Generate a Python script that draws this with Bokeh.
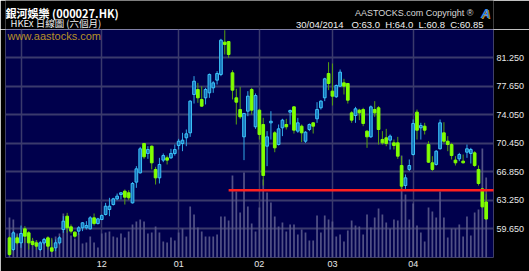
import pandas as pd
from bokeh.plotting import figure
from bokeh.layouts import column
from bokeh.models import Range1d, FixedTicker, Label, ColumnDataSource
from bokeh.core.properties import value
from bokeh.embed import file_html
from bokeh.resources import INLINE

# ---------------- data ----------------
start_date, end_date = "2013-10-29", "2014-04-30"
holidays = ["2013-12-25", "2013-12-26", "2014-01-01", "2014-01-31",
            "2014-02-03", "2014-04-18", "2014-04-21"]

opens = [
    58.47, 57.00, 58.47, 57.84, 59.61, 59.11, 58.01, 57.84, 57.00, 57.84,
    58.47, 57.21, 57.21, 57.84, 59.53, 61.21, 59.86, 59.19, 59.32, 59.74,
    59.74, 59.61, 61.00, 60.28, 60.79, 61.42, 62.05, 62.68, 63.40, 63.95,
    64.37, 64.16, 62.89, 65.51, 66.68, 70.39, 69.13, 70.05, 67.11, 66.05,
    68.29, 68.58, 68.58, 69.13, 70.14, 70.39, 71.11, 71.74, 76.58, 77.21,
    75.95, 76.16, 76.79, 77.42, 78.39, 79.11, 83.19, 83.27, 79.32, 76.16,
    74.68, 71.23, 74.47, 77.21, 72.50, 74.60, 72.79, 70.05, 73.00, 71.74,
    70.26, 72.37, 72.79, 74.35, 75.02, 71.95, 72.58, 70.68, 72.16, 73.00,
    73.51, 74.90, 76.16, 79.23, 77.00, 76.29, 77.63, 78.05, 77.97, 74.26,
    73.93, 74.60, 74.68, 71.95, 71.23, 74.68, 74.90, 70.90, 71.11, 70.81,
    70.47, 70.47, 67.61, 65.08, 67.11, 69.00, 74.35, 72.37, 72.58, 70.26,
    67.95, 67.74, 69.72, 71.74, 70.68, 70.26, 68.29, 68.45, 68.16, 69.29,
    69.13, 69.21, 67.11, 64.66, 63.00]
highs = [
    58.68, 59.32, 58.77, 60.03, 59.95, 59.32, 58.47, 58.18, 58.05, 58.47,
    58.68, 58.47, 58.26, 58.68, 61.21, 61.63, 60.16, 59.32, 59.95, 60.45,
    60.58, 61.21, 61.55, 61.00, 61.42, 62.89, 63.53, 63.53, 64.07, 64.24,
    64.58, 64.49, 65.51, 67.53, 69.97, 70.47, 70.05, 70.14, 67.44, 68.58,
    69.13, 68.87, 69.72, 70.26, 70.98, 71.74, 72.16, 75.86, 78.90, 78.05,
    77.63, 77.42, 79.23, 78.26, 79.53, 83.61, 84.70, 83.32, 79.65, 77.30,
    77.55, 74.26, 77.00, 77.42, 76.71, 74.77, 73.63, 71.95, 74.47, 71.95,
    72.79, 73.51, 73.51, 74.68, 75.11, 73.63, 72.79, 71.95, 72.92, 73.08,
    75.61, 75.86, 78.69, 80.66, 80.49, 77.84, 79.74, 78.56, 78.00, 74.47,
    75.02, 74.77, 74.90, 72.07, 75.19, 75.74, 75.11, 71.95, 72.24, 71.53,
    70.89, 71.23, 68.79, 66.48, 68.37, 73.42, 74.68, 73.00, 73.00, 70.68,
    68.79, 69.55, 73.42, 73.08, 71.32, 70.47, 68.79, 69.21, 69.00, 70.26,
    69.84, 69.42, 67.61, 64.79, 64.00]
lows = [
    56.16, 56.79, 57.63, 57.21, 57.84, 57.00, 57.42, 57.00, 56.79, 57.63,
    57.00, 56.66, 56.79, 57.63, 59.11, 59.11, 59.02, 58.47, 58.89, 59.32,
    59.53, 59.53, 60.03, 60.16, 60.70, 61.30, 61.21, 62.56, 63.23, 63.32,
    62.68, 63.23, 62.81, 64.79, 66.60, 68.45, 68.45, 67.11, 65.21, 65.34,
    68.03, 67.74, 68.45, 68.87, 69.63, 69.42, 70.05, 71.23, 75.44, 75.53,
    75.02, 75.32, 76.16, 76.79, 77.84, 78.90, 81.63, 81.21, 75.95, 72.79,
    73.51, 68.29, 73.84, 74.05, 72.24, 70.89, 65.08, 67.53, 70.89, 69.29,
    70.14, 71.32, 72.16, 72.79, 71.65, 71.74, 70.56, 70.47, 71.95, 71.65,
    73.00, 74.68, 75.74, 77.13, 75.19, 76.16, 77.55, 76.58, 75.44, 73.00,
    73.00, 73.34, 72.58, 69.84, 71.11, 73.76, 70.26, 70.26, 70.05, 69.63,
    69.63, 68.45, 64.58, 64.66, 66.90, 68.87, 70.89, 70.89, 71.53, 67.95,
    66.90, 67.61, 69.63, 70.47, 69.42, 68.37, 67.61, 68.16, 67.86, 68.58,
    67.86, 67.44, 65.08, 62.26, 60.80]
closes = [
    56.37, 59.11, 57.84, 59.02, 58.68, 57.84, 57.63, 57.42, 57.84, 58.26,
    57.42, 56.79, 57.84, 58.47, 60.58, 59.74, 59.32, 58.68, 59.74, 60.37,
    60.03, 61.00, 60.28, 60.87, 61.30, 62.47, 62.47, 63.40, 63.74, 64.16,
    63.61, 63.53, 65.34, 67.19, 69.72, 68.71, 69.63, 67.95, 66.05, 67.74,
    68.87, 68.29, 69.13, 69.63, 70.68, 70.81, 71.61, 75.74, 78.26, 76.16,
    75.11, 77.21, 79.11, 78.05, 79.23, 83.44, 82.90, 81.63, 77.13, 75.61,
    73.76, 74.18, 76.37, 74.60, 76.45, 71.53, 66.35, 71.23, 73.20, 69.84,
    72.24, 73.34, 72.50, 74.56, 72.07, 73.00, 71.74, 71.82, 72.79, 72.58,
    74.68, 75.74, 78.56, 77.97, 76.37, 77.72, 79.40, 77.63, 75.86, 73.34,
    74.77, 74.26, 72.92, 71.23, 75.02, 74.26, 72.16, 70.47, 70.39, 71.32,
    70.14, 68.79, 65.00, 66.05, 67.61, 72.92, 72.07, 72.66, 72.07, 68.03,
    67.11, 69.42, 73.00, 70.68, 70.26, 68.87, 67.95, 69.00, 67.95, 69.72,
    69.63, 67.61, 65.34, 62.39, 60.85]
volumes = [  # millions of shares (estimated)
    16.0, 15.2, 9.6, 8.4, 8.0, 7.6, 7.2, 6.8, 6.0, 7.6,
    8.0, 7.2, 8.4, 9.6, 17.6, 12.8, 8.8, 7.6, 9.6, 5.6,
    6.0, 8.4, 6.0, 4.0, 9.6, 10.0, 10.4, 8.4, 8.0, 9.6,
    8.0, 10.4, 13.2, 14.4, 15.2, 14.4, 9.6, 10.0, 12.4, 10.0,
    6.4, 6.0, 8.0, 6.8, 10.0, 11.6, 8.4, 20.4, 17.2, 12.0,
    10.4, 8.4, 8.4, 8.4, 9.2, 16.4, 16.4, 14.8, 32.8, 26.4,
    18.0, 34.0, 20.4, 13.6, 10.4, 20.0, 31.2, 26.0, 22.0, 16.4,
    12.4, 14.0, 10.4, 13.2, 13.2, 9.2, 11.2, 10.0, 6.8, 6.8,
    16.8, 10.0, 16.8, 15.2, 14.4, 8.4, 9.2, 6.4, 10.8, 14.8,
    12.8, 12.4, 9.2, 17.2, 12.0, 16.0, 19.6, 17.2, 14.0, 11.6,
    15.2, 14.8, 40.8, 25.2, 15.2, 21.6, 12.8, 10.0, 6.4, 20.0,
    18.4, 16.0, 26.4, 16.0, 8.0, 11.6, 11.6, 13.2, 8.4, 16.4,
    8.8, 18.0, 19.2, 43.6, 32.0]

month_labels = ["12", "01", "02", "03", "04"]
price_ticks = [59.65, 63.25, 66.85, 70.45, 74.05, 77.65, 81.25]
support_level = 64.5
support_start_date = "2014-01-21"

NB = "\u00a0"
title_text = "銀河娛樂 (000027.HK)"
subtitle_text = "HKEx 日線圖 (六個月)"
site_text = "www.aastocks.com"
copyright_text = "AASTOCKS.com Copyright ®"
quote_text = f"30/04/2014{NB*3}O:63.0{NB*2}H:64.0{NB*2}L:60.8{NB*2}C:60.85"

# ---------------- derived ----------------
dates = pd.bdate_range(start_date, end_date)
dates = dates[~dates.isin(pd.to_datetime(holidays))]
n = len(dates)
assert n == len(opens) == len(highs) == len(lows) == len(closes) == len(volumes)
idx = list(range(n))
month_starts = [i for i in range(1, n) if dates[i].month != dates[i - 1].month]
label_ticks = month_starts[1:]
support_start = int(list(dates).index(pd.Timestamp(support_start_date)))

up = [c >= o for o, c in zip(opens, closes)]
UP_FILL, UP_LINE, UP_WICK = "#1670b8", "#3cc4f8", "#30a8e8"
DN_FILL, DN_WICK = "#80ff00", "#58a010"
src = ColumnDataSource(dict(
    x=idx, o=opens, h=highs, l=lows, c=closes, v=volumes,
    top=[max(o, c) for o, c in zip(opens, closes)],
    bot=[min(o, c) for o, c in zip(opens, closes)],
    fill=[UP_FILL if u else DN_FILL for u in up],
    line=[UP_LINE if u else DN_FILL for u in up],
    wick=[UP_WICK if u else DN_WICK for u in up],
))

W, HEAD_H, MAIN_H = 529, 29, 242
BL, BR = 5, 36   # left / right borders around the plotting frame

# ---------------- header strip (frame = canvas x 5..493, y 0..29) ----------------
head = figure(width=W, height=HEAD_H, output_backend="svg", toolbar_location=None,
              x_range=Range1d(BL, W - BR), y_range=Range1d(HEAD_H, 0),
              min_border_left=BL, min_border_right=BR, min_border_top=0, min_border_bottom=0,
              background_fill_color="black", border_fill_color="black",
              outline_line_color=None)
head.axis.visible = False
head.grid.visible = False

def htext(txt, x, y, size, color, font="Liberation Sans", style="normal", align="left"):
    head.text(x=[x], y=[y], text=[txt], text_font=value(font), text_font_size=value(size),
              text_color=color, text_font_style=style, text_align=align,
              text_baseline="middle")

htext(title_text, 5, 12.5, "11px", "white", font="Noto Sans CJK TC", style="bold")
htext(subtitle_text, 10, 22.5, "9.5px", "#f0f0f0", font="Noto Sans CJK TC")
htext(copyright_text, 473, 12.5, "9px", "#d8d8d8", align="right")
htext("A", 486, 13.5, "13px", "#c09030", style="bold italic", align="center")
htext("A", 485, 12.8, "13px", "#3c8ce8", style="bold italic", align="center")
htext(quote_text, 483, 23.5, "9.5px", "#f0f0f0", align="right")

# ---------------- main chart ----------------
NAVY = "#00004c"
p = figure(width=W, height=MAIN_H, output_backend="svg", toolbar_location=None,
           x_range=Range1d(-1.04, n + 0.9), y_range=Range1d(55.99, 84.79),
           y_axis_location="right",
           min_border_left=BL, min_border_right=BR, min_border_top=0, min_border_bottom=14,
           background_fill_color=NAVY, border_fill_color="black", outline_line_color=None)
p.extra_y_ranges = {"vol": Range1d(0, 91.2)}

p.xgrid.ticker = FixedTicker(ticks=month_starts)
p.ygrid.ticker = FixedTicker(ticks=price_ticks)
p.xgrid.grid_line_color = "#3a3a6c"
p.xgrid.grid_line_width = 1.5
p.ygrid.grid_line_color = "#3a3a6c"
p.ygrid.grid_line_width = 2

p.xaxis.ticker = FixedTicker(ticks=label_ticks)
p.xaxis.major_label_overrides = {t: lab for t, lab in zip(label_ticks, month_labels)}
p.yaxis.ticker = FixedTicker(ticks=price_ticks)
p.yaxis.major_label_overrides = {t: f"{t:.3f}" for t in price_ticks}
for ax in (p.xaxis[0], p.yaxis[0]):
    ax.axis_line_color = None
    ax.major_tick_line_color = None
    ax.minor_tick_line_color = None
    ax.major_tick_out = 0
    ax.major_tick_in = 0
    ax.major_label_text_color = "#e8e8e8"
    ax.major_label_text_font = "Liberation Sans"
    ax.major_label_text_font_size = "9px"
p.xaxis.major_label_standoff = 3
p.yaxis.major_label_standoff = 3

# volume bars
p.vbar(x="x", top="v", bottom=0, width=0.45, source=src, y_range_name="vol",
       fill_color="#5a5a8c", line_color=None, fill_alpha=0.9)

# candles
p.segment(x0="x", x1="x", y0="l", y1="h", source=src, line_color="wick", line_width=1)
p.vbar(x="x", top="top", bottom="bot", width=0.7, source=src,
       fill_color="fill", line_color="line", line_width=1)

# support line
p.segment(x0=[support_start], x1=[n + 5], y0=[support_level], y1=[support_level],
          line_color="#ff2020", line_width=2.5)

# site watermark inside the frame (screen units relative to frame)
p.add_layout(Label(x=2, y=MAIN_H - 14 - 6.5, x_units="screen", y_units="screen",
                   text=site_text, text_font="Liberation Sans", text_font_size="11px",
                   text_color="#b89028", text_align="left", text_baseline="middle"))

layout = column(head, p, spacing=0)
open("out.html", "w").write(file_html(layout, INLINE))
